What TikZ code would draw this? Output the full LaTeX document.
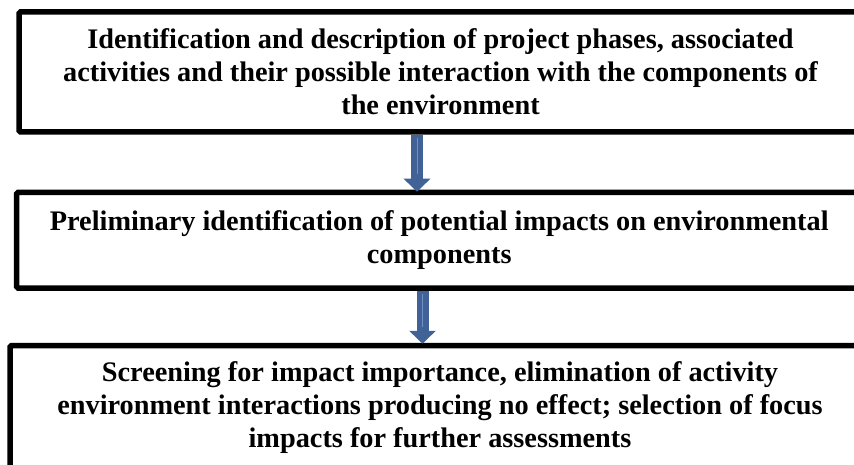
\documentclass[tikz,border=0pt]{standalone}
\usepackage{fontspec}
\setmainfont{Liberation Serif}
\usepackage{tikz}
\usetikzlibrary{arrows.meta,positioning}
\definecolor{flowblue}{RGB}{64,98,150}
\definecolor{flowlight}{RGB}{110,145,200}
\tikzset{
  stage/.style={
    shape = rectangle,
    draw,
    line width = 5.5pt,
    rounded corners = 1.5pt,
    align = center,
    inner sep = 0pt,
    font = \fontsize{28.3}{33}\selectfont\bfseries
  },
  flow/.style={
    draw = flowblue,
    line width = 12pt,
    -{Triangle[width=26pt,length=13pt]}
  },
  shine/.style={
    draw = flowlight,
    line width = 1pt
  }
}

\begin{document}
\begin{tikzpicture}[x=1pt,y=-1pt]
        \useasboundingbox (0,0) rectangle (854,465);
        \clip (0,0) rectangle (854,465);

        % the three stages
        \node[stage, minimum width=843pt, minimum height=120pt] (phases) at (440.5,72)
          {Identification and description of project phases, associated\\
           activities and their possible interaction with the components of\\
           the environment};
        \node[stage, minimum width=845.5pt, minimum height=95.5pt] (impacts) at (439.25,240.25)
          {Preliminary identification of potential impacts on environmental\\
           components};
        \node[stage, minimum width=860pt, minimum height=125pt] (screening) at (440,408)
          {Screening for impact importance, elimination of activity\\
           environment interactions producing no effect; selection of focus\\
           impacts for further assessments};

        % block arrows between stages
        \coordinate (a1) at (417,0);
        \coordinate (a2) at (422.5,0);
        \draw[flow] (phases.south -| a1) -- ([yshift=-2pt]impacts.north -| a1);
        \draw[shine] ([yshift=-3pt]phases.south -| a1) -- ([yshift=16pt]impacts.north -| a1);
        \draw[flow] (impacts.south -| a2) -- ([yshift=-1pt]screening.north -| a2);
        \draw[shine] ([yshift=-3pt]impacts.south -| a2) -- ([yshift=16pt]screening.north -| a2);
\end{tikzpicture}
\end{document}
